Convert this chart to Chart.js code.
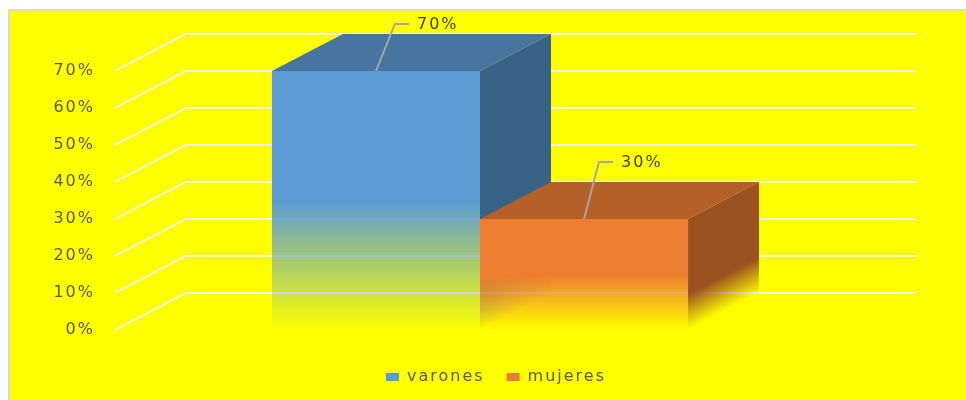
<!DOCTYPE html>
<html>
<head>
<meta charset="utf-8">
<script src="https://cdn.jsdelivr.net/npm/chart.js@4.4.1/dist/chart.umd.min.js"></script>
<style>
  html, body { margin: 0; background: #fff; }
  #frame {
    position: absolute; left: 8px; top: 9px;
    width: 956px; height: 389px;
    background: #ffff00;
    border-left: 2px solid #d9d9d9;
    border-top: 2px solid #d9d9d9;
  }
</style>
</head>
<body>
<div id="frame"><canvas id="chart"></canvas></div>
<script>
// data
const categories   = [""];
const seriesNames  = ["varones", "mujeres"];
const seriesValues = [70, 30];
const tickValues   = [0, 10, 20, 30, 40, 50, 60, 70];

// face colours of each box: front (rgb, faded), top, side (rgb, faded)
const faceColours = [
    { front: [91, 155, 213], top: "#4676a0", side: [57, 99, 134] },
    { front: [237, 125, 49], top: "#b56028", side: [156, 82, 32] },
];
const DEPTH_X = 71;   // 3d depth offset in px
const DEPTH_Y = 37;
// leader line elbow for each value label
const labelOffsets = [{ dx: 19, dy: -47 }, { dx: 15, dy: -57 }];

Chart.defaults.font.family = "'DejaVu Sans', sans-serif";

function rgba(c, a) {
    return `rgba(${c[0]},${c[1]},${c[2]},${a})`;
}

// front face: solid on top half, fading into the background below
function frontFill(context, i) {
    const c = faceColours[i].front;
    const chart = context.chart;
    if (!chart.chartArea || !context.parsed) return rgba(c, 1);
    const y = chart.scales.y;
    const top  = y.getPixelForValue(context.parsed.y);
    const base = y.getPixelForValue(0);
    const g = chart.ctx.createLinearGradient(0, top, 0, base);
    g.addColorStop(0, rgba(c, 1));
    g.addColorStop(0.5, rgba(c, 1));
    g.addColorStop(1, rgba(c, 0));
    return g;
}

// wider text like the original
const spacingPlugin = {
    id: "spacing",
    beforeLayout(chart) { chart.ctx.letterSpacing = "2px"; },
    beforeDraw(chart)   { chart.ctx.letterSpacing = "2px"; },
};

const boxPlugin = {
    id: "box3d",
    beforeDatasetsDraw(chart) {
        const ctx  = chart.ctx;
        const area = chart.chartArea;
        const y    = chart.scales.y;

        // walls: diagonal on the left, horizontal along the back
        ctx.save();
        ctx.strokeStyle = "#f0f0f0";
        ctx.lineWidth = 1.8;
        y.ticks.forEach(t => {
            const py = y.getPixelForValue(t.value);
            ctx.beginPath();
            ctx.moveTo(area.left, py);
            ctx.lineTo(area.left + DEPTH_X, py - DEPTH_Y);
            ctx.lineTo(area.right + DEPTH_X, py - DEPTH_Y);
            ctx.stroke();
        });

        // top and side faces, behind the fronts
        chart.data.datasets.forEach((ds, i) => {
            const bar = chart.getDatasetMeta(i).data[0];
            const { x, y: top, base, width } = bar.getProps(["x", "y", "base", "width"], true);
            const l = x - width / 2;
            const r = x + width / 2;
            const col = faceColours[i];

            ctx.fillStyle = col.top;
            ctx.beginPath();
            ctx.moveTo(l, top);
            ctx.lineTo(r, top);
            ctx.lineTo(r + DEPTH_X, top - DEPTH_Y);
            ctx.lineTo(l + DEPTH_X, top - DEPTH_Y);
            ctx.closePath();
            ctx.fill();

            // side face drawn in sheared space so the fade follows the slant
            ctx.save();
            ctx.translate(r, 0);
            ctx.transform(1, -DEPTH_Y / DEPTH_X, 0, 1, 0, 0);
            const g = ctx.createLinearGradient(0, top, 0, base);
            g.addColorStop(0, rgba(col.side, 1));
            g.addColorStop(0.68, rgba(col.side, 1));
            g.addColorStop(1, rgba(col.side, 0));
            ctx.fillStyle = g;
            ctx.fillRect(0, top, DEPTH_X, base - top);
            ctx.restore();
        });
        ctx.restore();
    },
    afterDatasetsDraw(chart) {
        const ctx = chart.ctx;
        ctx.save();
        ctx.strokeStyle = "#a6a6a6";
        ctx.lineWidth = 2;
        ctx.fillStyle = "#404040";
        ctx.font = "16px 'DejaVu Sans'";
        ctx.textAlign = "left";
        ctx.textBaseline = "middle";
        chart.data.datasets.forEach((ds, i) => {
            const bar = chart.getDatasetMeta(i).data[0];
            const o = labelOffsets[i];
            const ex = bar.x + o.dx;
            const ey = bar.y + o.dy;
            ctx.beginPath();
            ctx.moveTo(bar.x, bar.y);
            ctx.lineTo(ex, ey);
            ctx.lineTo(ex + 14, ey);
            ctx.stroke();
            ctx.fillText(ds.data[0] + "%", ex + 22, ey + 1);
        });
        ctx.restore();
    },
};

new Chart(document.getElementById("chart"), {
    type: "bar",
    data: {
        labels: categories,
        datasets: seriesNames.map((name, i) => ({
            label: name,
            data: [seriesValues[i]],
            backgroundColor: c => frontFill(c, i),
            borderWidth: 0,
            categoryPercentage: 0.57,
            barPercentage: 1,
        })),
    },
    options: {
        responsive: true,
        maintainAspectRatio: false,
        animation: false,
        layout: { padding: { left: 16, right: 0, top: 60, bottom: 5 } },
        scales: {
            x: {
                grid: { display: false },
                border: { display: false },
                ticks: { display: false },
                afterFit: s => { s.height = 17; },
            },
            y: {
                min: 0,
                max: 70,
                grid: { display: false, drawTicks: false },
                border: { display: false },
                afterBuildTicks: s => { s.ticks = tickValues.map(v => ({ value: v })); },
                afterFit: s => { s.width = 89; },
                ticks: {
                    padding: 20,
                    color: "#595959",
                    font: { size: 16 },
                    callback: v => v + "%",
                },
            },
            // empty right-hand box that leaves room for the back wall
            yRight: {
                position: "right",
                display: true,
                grid: { display: false, drawTicks: false },
                border: { display: false },
                ticks: { display: false },
                afterFit: s => { s.width = 121; },
            },
        },
        plugins: {
            legend: {
                position: "bottom",
                labels: {
                    boxWidth: 13,
                    boxHeight: 8,
                    padding: 22,
                    color: "#595959",
                    font: { size: 16 },
                    generateLabels: chart =>
                        Chart.defaults.plugins.legend.labels.generateLabels(chart).map((item, i) => ({
                            ...item,
                            fillStyle: rgba(faceColours[i].front, 1),
                            strokeStyle: rgba(faceColours[i].front, 1),
                            lineWidth: 0,
                        })),
                },
            },
            tooltip: { enabled: false },
        },
    },
    plugins: [spacingPlugin, boxPlugin],
});
</script>
</body>
</html>
